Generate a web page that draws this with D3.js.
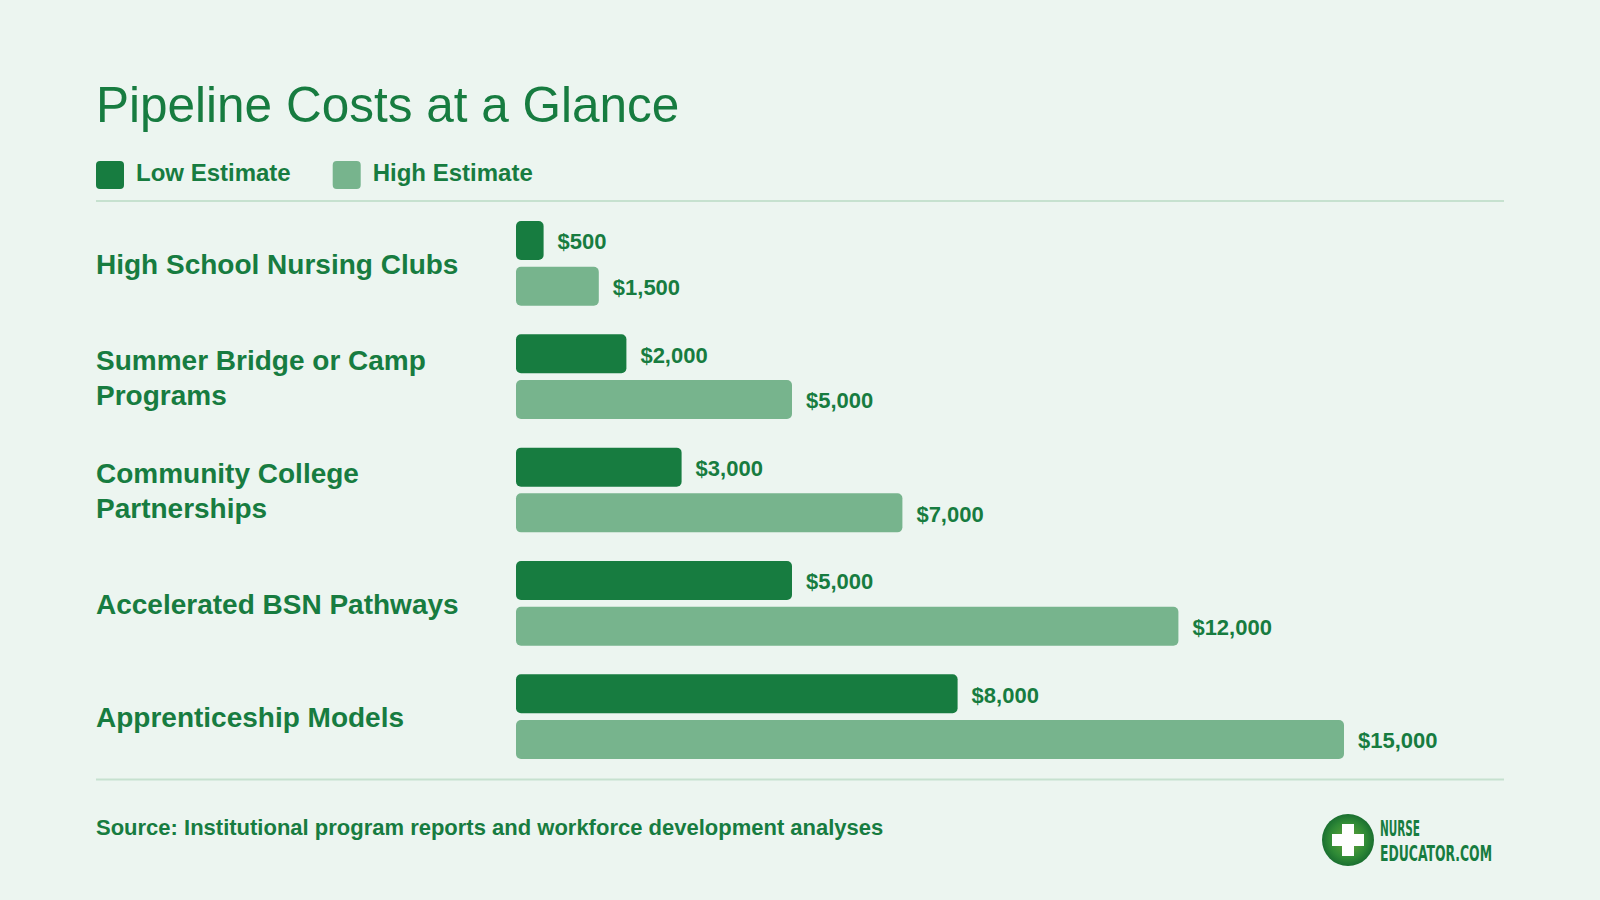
<!DOCTYPE html>
<html>
<head>
<meta charset="utf-8">
<script src="https://cdn.jsdelivr.net/npm/d3@7"></script>
<style>
  html, body { margin: 0; padding: 0; background: #ecf5f0; }
  svg { display: block; font-family: "Liberation Sans", Arial, Helvetica, sans-serif; }
</style>
</head>
<body>
<div id="chart"></div>
<script>
// chart data
var categories = [
  "High School Nursing Clubs",
  "Summer Bridge or Camp Programs",
  "Community College Partnerships",
  "Accelerated BSN Pathways",
  "Apprenticeship Models"
];
var lowEstimate = [500, 2000, 3000, 5000, 8000];
var highEstimate = [1500, 5000, 7000, 12000, 15000];
var seriesNames = ["Low Estimate", "High Estimate"];
var sourceText = "Source: Institutional program reports and workforce development analyses";

var W = 1600, H = 900;
var green = "#177c40", lightGreen = "#77b48d", rule = "#c6e1cf";

var svg = d3.select("#chart").append("svg")
  .attr("width", W)
  .attr("height", H);

svg.append("rect").attr("width", W).attr("height", H).attr("fill", "#ecf5f0");

// title
svg.append("text")
  .attr("x", 96)
  .attr("y", 122)
  .attr("fill", green)
  .attr("font-size", 49.5)
  .text("Pipeline Costs at a Glance");

// legend
var legendColors = [green, lightGreen];
var lx = 96;
seriesNames.forEach(function (name, i) {
  var g = svg.append("g").attr("transform", "translate(" + lx + ",161)");
  g.append("rect")
    .attr("width", 28).attr("height", 28).attr("rx", 4)
    .attr("fill", legendColors[i]);
  var t = g.append("text")
    .attr("x", 40).attr("y", 20)
    .attr("fill", green)
    .attr("font-size", 24)
    .attr("font-weight", "bold")
    .text(name);
  lx += 40 + t.node().getComputedTextLength() + 42;
});

// rules
svg.append("line").attr("x1", 96).attr("x2", 1504).attr("y1", 201).attr("y2", 201)
  .attr("stroke", rule).attr("stroke-width", 2);
svg.append("line").attr("x1", 96).attr("x2", 1504).attr("y1", 779.5).attr("y2", 779.5)
  .attr("stroke", rule).attr("stroke-width", 2);

// scales
var x = d3.scaleLinear().domain([0, 15000]).range([516, 1344]);
var y0 = d3.scaleBand()
  .domain(categories)
  .range([201, 779])
  .paddingInner(0.2524)
  .paddingOuter(0.1765);
var y1 = d3.scaleBand()
  .domain(["low", "high"])
  .range([0, y0.bandwidth()])
  .paddingInner(0.147);

var rows = categories.map(function (c, i) {
  return { cat: c, values: [
    { key: "low", v: lowEstimate[i], color: green },
    { key: "high", v: highEstimate[i], color: lightGreen }
  ] };
});

var fmt = d3.format("$,");

var groups = svg.selectAll(".group")
  .data(rows)
  .enter()
  .append("g")
  .attr("class", "group")
  .attr("transform", function (d) { return "translate(0," + y0(d.cat) + ")"; });

groups.selectAll("rect")
  .data(function (d) { return d.values; })
  .enter()
  .append("rect")
  .attr("x", x(0))
  .attr("y", function (d) { return y1(d.key); })
  .attr("width", function (d) { return x(d.v) - x(0); })
  .attr("height", y1.bandwidth())
  .attr("rx", 5)
  .attr("fill", function (d) { return d.color; });

groups.selectAll(".val")
  .data(function (d) { return d.values; })
  .enter()
  .append("text")
  .attr("class", "val")
  .attr("x", function (d) { return x(d.v) + 14; })
  .attr("y", function (d) { return y1(d.key) + y1.bandwidth() / 2; })
  .attr("dy", "0.4em")
  .attr("fill", green)
  .attr("font-size", 22)
  .attr("font-weight", "bold")
  .text(function (d) { return fmt(d.v); });

// category labels, wrapped
var maxLabel = 380, lineH = 35;
groups.each(function (d) {
  var g = d3.select(this);
  var t = g.append("text")
    .attr("x", 96)
    .attr("fill", green)
    .attr("font-size", 28)
    .attr("font-weight", "bold");
  var words = d.cat.split(" "), lines = [], cur = [];
  words.forEach(function (w) {
    cur.push(w);
    t.text(cur.join(" "));
    if (t.node().getComputedTextLength() > maxLabel && cur.length > 1) {
      cur.pop();
      lines.push(cur.join(" "));
      cur = [w];
    }
  });
  lines.push(cur.join(" "));
  t.text(null);
  var mid = y0.bandwidth() / 2;
  lines.forEach(function (ln, i) {
    t.append("tspan")
      .attr("x", 96)
      .attr("y", mid + (i - (lines.length - 1) / 2) * lineH)
      .attr("dy", "0.37em")
      .text(ln);
  });
});

// source
svg.append("text")
  .attr("x", 96)
  .attr("y", 835)
  .attr("fill", green)
  .attr("font-size", 22)
  .attr("font-weight", "bold")
  .text(sourceText);

// logo
var defs = svg.append("defs");
var grad = defs.append("radialGradient").attr("id", "logoGrad");
grad.append("stop").attr("offset", "0%").attr("stop-color", "#6aa83a");
grad.append("stop").attr("offset", "70%").attr("stop-color", "#2f8a36");
grad.append("stop").attr("offset", "100%").attr("stop-color", "#1a6f30");

var logo = svg.append("g").attr("transform", "translate(1348,840)");
logo.append("circle").attr("r", 26).attr("fill", "url(#logoGrad)");
logo.append("rect").attr("x", -6).attr("y", -16).attr("width", 12).attr("height", 32).attr("fill", "#fff");
logo.append("rect").attr("x", -16).attr("y", -6).attr("width", 32).attr("height", 12).attr("fill", "#fff");

svg.append("text")
  .attr("x", 1380).attr("y", 836)
  .attr("fill", green)
  .attr("font-family", "'Liberation Sans Narrow', 'DejaVu Sans Condensed', sans-serif")
  .attr("font-weight", "bold")
  .attr("font-size", 21)
  .attr("textLength", 40)
  .attr("lengthAdjust", "spacingAndGlyphs")
  .text("NURSE");
svg.append("text")
  .attr("x", 1380).attr("y", 861)
  .attr("fill", green)
  .attr("font-family", "'Liberation Sans Narrow', 'DejaVu Sans Condensed', sans-serif")
  .attr("font-weight", "bold")
  .attr("font-size", 21)
  .attr("textLength", 112)
  .attr("lengthAdjust", "spacingAndGlyphs")
  .text("EDUCATOR.COM");
</script>
</body>
</html>
